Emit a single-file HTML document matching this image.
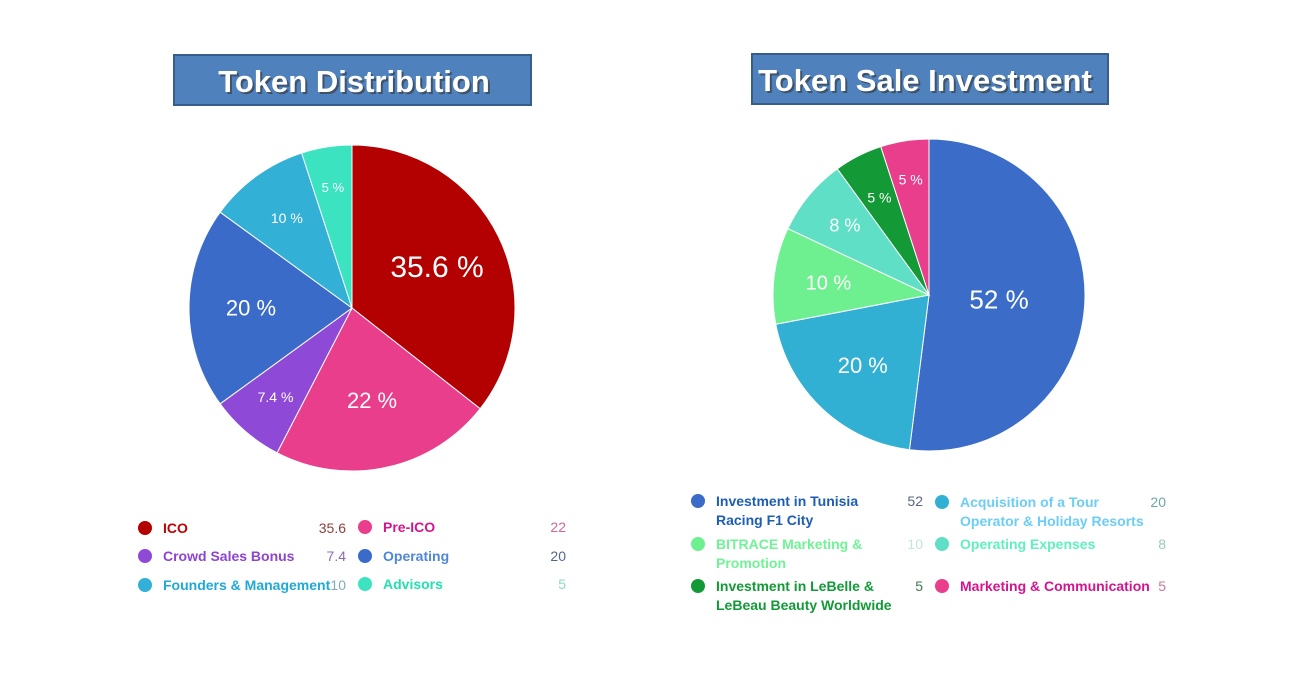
<!DOCTYPE html>
<html><head><meta charset="utf-8"><style>
body{margin:0;background:#fff;width:1300px;height:686px;overflow:hidden;font-family:"Liberation Sans",sans-serif}
svg{position:absolute;left:0;top:0}
</style></head><body>
<svg id="c" width="1300" height="686">
<g>
<rect x="174" y="55" width="357" height="50" fill="#4f81bd" stroke="#385d8a" stroke-width="2"/>
<text x="354" y="92" text-anchor="middle" font-size="31" font-weight="bold" fill="#333" opacity="0.6" transform="translate(2,2)">Token Distribution</text>
<text x="354" y="92" text-anchor="middle" font-size="31" font-weight="bold" fill="#fff">Token Distribution</text>
</g>
<g>
<rect x="752" y="54" width="356" height="50" fill="#4f81bd" stroke="#385d8a" stroke-width="2"/>
<text x="925" y="91" text-anchor="middle" font-size="31" font-weight="bold" fill="#333" opacity="0.6" transform="translate(2,2)">Token Sale Investment</text>
<text x="925" y="91" text-anchor="middle" font-size="31" font-weight="bold" fill="#fff">Token Sale Investment</text>
</g>
</svg>
<script>
const cats1=["ICO","Pre-ICO","Crowd Sales Bonus","Operating","Founders & Management","Advisors"];
const vals1=[35.6,22,7.4,20,10,5];
const labels1=["35.6 %","22 %","7.4 %","20 %","10 %","5 %"];
const cats2=["Investment in Tunisia|Racing F1 City","Acquisition of a Tour|Operator & Holiday Resorts","BITRACE Marketing &|Promotion","Operating Expenses","Investment in LeBelle &|LeBeau Beauty Worldwide","Marketing & Communication"];
const vals2=[52,20,10,8,5,5];
const labels2=["52 %","20 %","10 %","8 %","5 %","5 %"];
// pie slice order (clockwise from top) for chart 2
const order2=[0,1,2,3,4,5];
const colors1=["#b30000","#e83e8c","#8e4ad6","#3b6bc9","#33b0d6","#3be3c0"];
const text1=["#c00000","#d4148f","#8e44d0","#4f86d8","#1fa9d6","#24e0b0"];
const num1=["#8b4040","#c66a9a","#8a6ab0","#51678e","#84a9b9","#8ad7c9"];
const colors2=["#3a6cc8","#31b0d3","#6ff090","#5fe0c6","#139a36","#e83e8c"];
const text2=["#1d5db5","#6ccdf5","#70f296","#5ff0c0","#119a36","#d4148f"];
const num2=["#5a6780","#6fa7a8","#c2e7d4","#99c8c0","#3f7a4c","#c67aa0"];
const size1=[30,22,14,22,14,13];
const size2=[26,22,20,18,14,14];
const svg=document.getElementById('c');const NS="http://www.w3.org/2000/svg";
function el(t,a,p){const e=document.createElementNS(NS,t);for(const k in a)e.setAttribute(k,a[k]);(p||svg).appendChild(e);return e;}
function pie(cx,cy,r,vals,colors,labels,sizes,name,lr){
 const tot=vals.reduce((a,b)=>a+b,0);let a0=-Math.PI/2;
 const g=el('g',{});
 vals.forEach((v,i)=>{const a1=a0+v/tot*2*Math.PI;
  const x0=cx+r*Math.cos(a0),y0=cy+r*Math.sin(a0),x1=cx+r*Math.cos(a1),y1=cy+r*Math.sin(a1);
  const p=el('path',{d:`M${cx},${cy}L${x0},${y0}A${r},${r} 0 ${a1-a0>Math.PI?1:0} 1 ${x1},${y1}Z`,fill:colors[i],stroke:'#fff','stroke-width':1},g);
  
  const am=(a0+a1)/2,f=lr[i];
  const t=el('text',{x:cx+r*f*Math.cos(am),y:cy+r*f*Math.sin(am)+sizes[i]*0.35,'text-anchor':'middle','font-size':sizes[i],fill:'#fff'},g);
  t.textContent=labels[i];
  a0=a1;});
}
pie(352,308,163,vals1,colors1,labels1,size1,'pie-token-distribution',[0.58,0.58,0.72,0.62,0.68,0.75]);
pie(929,295,156,vals2,colors2,labels2,size2,'pie-token-sale',[0.45,0.62,0.65,0.7,0.7,0.75]);
function legend(items,vals,dot,tc,nc,pos,name){
 const g=el('g',{});
 items.forEach((c,i)=>{const [x,y,nx]=pos[i];
  const d=el('circle',{cx:x,cy:y,r:7,fill:dot[i]},g);
  const lines=c.split('|');
  lines.forEach((l,j)=>{const t=el('text',{x:x+18,y:y+5+j*19,'font-size':14,'font-weight':'bold',fill:tc[i]},g);t.textContent=l;});
  const n=el('text',{x:nx,y:y+5,'font-size':14,'text-anchor':'end',fill:nc[i]},g);n.textContent=vals[i];
 });
}
legend(cats1,vals1,colors1,text1,num1,[[145,528,346],[365,527,566],[145,556,346],[365,556,566],[145,585,346],[365,584,566]],'legend-token-distribution');
legend(cats2,vals2,colors2,text2,num2,[[698,501,923],[942,502,1166],[698,544,923],[942,544,1166],[698,586,923],[942,586,1166]],'legend-token-sale');
</script>
</body></html>
